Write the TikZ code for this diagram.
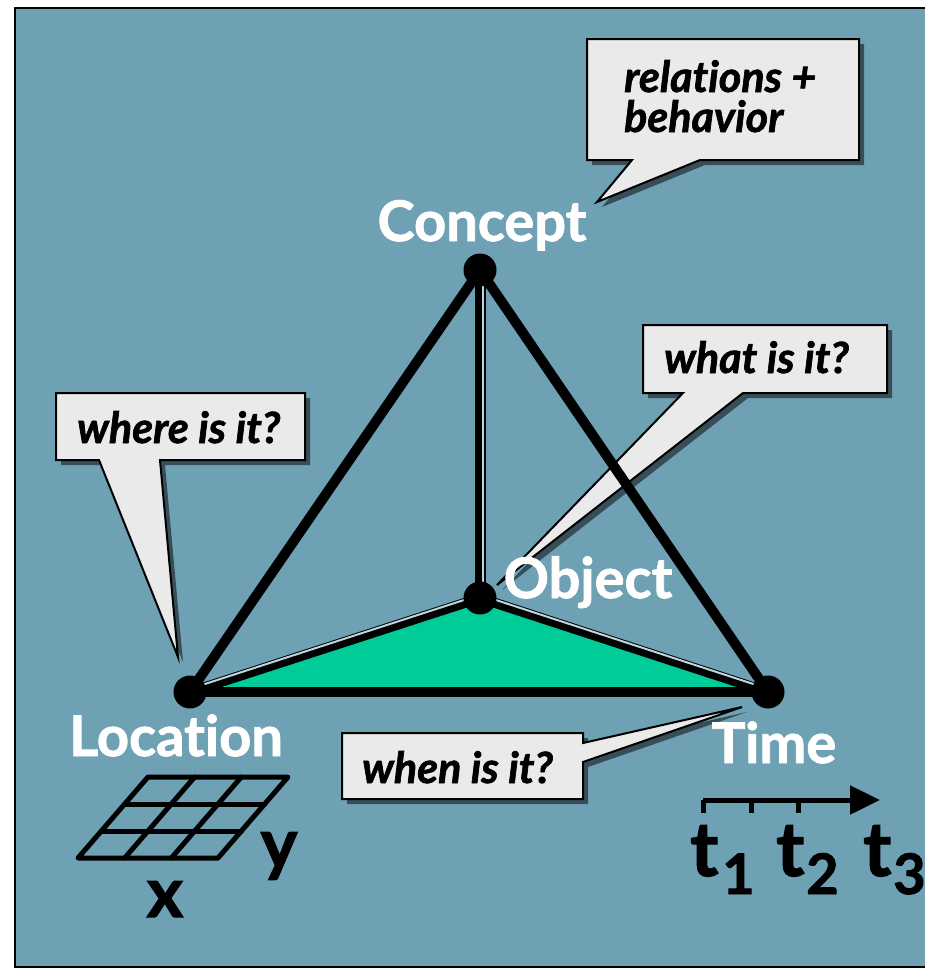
\documentclass[tikz,border=0pt]{standalone}
\usepackage{fontspec}
\setmainfont{Lato}[Ligatures=NoCommon,BoldFeatures={FakeBold=1.5},BoldItalicFeatures={FakeBold=1.5}]
\usetikzlibrary{arrows.meta,calc}
\definecolor{bg}{RGB}{110,161,180}
\definecolor{callfill}{RGB}{234,234,234}
\definecolor{shadowc}{RGB}{55,78,88}
\definecolor{tgreen}{RGB}{0,204,153}
\definecolor{gapc}{RGB}{190,212,222}
\tikzset{
  callshadow/.style={fill=shadowc, draw=none},
  callbox/.style={fill=callfill, draw=black, line width=2pt, line join=miter},
  calltext/.style={anchor=base west, inner sep=0pt, font=\fontsize{43}{50}\selectfont\bfseries\itshape},
  vdot/.style={circle, fill=black, minimum size=33pt, inner sep=0pt},
  vlabel/.style={anchor=base, inner sep=0pt, text=white, font=\fontsize{56}{60}\selectfont\bfseries},
  edge/.style={line width=10pt, line cap=round},
  dedge/.style={line width=10pt, line cap=round},
  gapline/.style={gapc, line width=2pt},
  bigletter/.style={inner sep=0pt, font=\fontsize{70}{74}\selectfont\bfseries},
  tletter/.style={inner sep=0pt, anchor=base west, font=\fontsize{76}{80}\selectfont\bfseries},
  subletter/.style={inner sep=0pt, anchor=base west, font=\fontsize{56}{60}\selectfont\bfseries},
  gridline/.style={line width=5pt, line cap=round, line join=round},
}
\begin{document}
\begin{tikzpicture}[x=1pt,y=-1pt]
\useasboundingbox (0,0) rectangle (924,969);
% background panel
\draw[fill=bg, draw=black, line width=2pt] (15,8) rectangle (930,967);

% vertices (positions)
\coordinate (Cp) at (480,270);
\coordinate (Op) at (480,598);
\coordinate (Lp) at (190,692);
\coordinate (Tp) at (768,692);

% green face
\fill[tgreen] (Lp) -- (Op) -- (Tp) -- cycle;

% callout: relations + behavior
\begin{scope}[shift={(5,5)}]
\fill[callshadow] (587,39) -- (859,39) -- (859,160) -- (700,160) -- (597,202) -- (632,160) -- (587,160) -- cycle;
\end{scope}
\draw[callbox] (587,39) -- (859,39) -- (859,160) -- (700,160) -- (597,202) -- (632,160) -- (587,160) -- cycle;
\node[calltext] (rel1) at (624,92) {relat\kern0pt ions +};
\node[calltext] (rel2) at (624,132) {behavior};

% callout: what is it?
\begin{scope}[shift={(5,5)}]
\fill[callshadow] (643,325) -- (887,325) -- (887,393) -- (743,393) -- (497,585) -- (683,393) -- (643,393) -- cycle;
\end{scope}
\draw[callbox] (643,325) -- (887,325) -- (887,393) -- (743,393) -- (497,585) -- (683,393) -- (643,393) -- cycle;
\node[calltext] (what) at (664,373) {what is it?};

% callout: where is it?
\begin{scope}[shift={(5,5)}]
\fill[callshadow] (56,393) -- (305,393) -- (305,460) -- (160,460) -- (178,657) -- (99,460) -- (56,460) -- cycle;
\end{scope}
\draw[callbox] (56,393) -- (305,393) -- (305,460) -- (160,460) -- (178,657) -- (99,460) -- (56,460) -- cycle;
\node[calltext] (where) at (77,443) {where is it?};

% callout: when is it?
\begin{scope}[shift={(5,5)}]
\fill[callshadow] (342,733) -- (583,733) -- (583,743) -- (742,707) -- (583,762) -- (583,799) -- (342,799) -- cycle;
\end{scope}
\draw[callbox] (342,733) -- (583,733) -- (583,743) -- (742,707) -- (583,762) -- (583,799) -- (342,799) -- cycle;
\node[calltext] (when) at (362,783) {when is it?};

% edges
\draw[edge] (Cp) -- (Lp);
\draw[edge] (Cp) -- (Tp);
\draw[line width=10pt] (Lp) -- (Tp);
\draw[line width=11pt] (Cp) -- (Op);
\draw[gapline] ($(Cp)+(2.5,0)$) -- ($(Op)+(2.5,0)$);
\draw[dedge] (Lp) -- (Op);
\draw[gapline] ($(Lp)+(-0.9,-2.9)$) -- ($(Op)+(-0.9,-2.9)$);
\draw[dedge] (Op) -- (Tp);
\draw[gapline] ($(Op)+(0.9,-2.9)$) -- ($(Tp)+(0.9,-2.9)$);

% vertex dots
\node[vdot] (C) at (Cp) {};
\node[vdot] (O) at (Op) {};
\node[vdot] (L) at (Lp) {};
\node[vdot] (T) at (Tp) {};

% vertex labels
\node[vlabel] (Clab) at (482,241) {Concept};
\node[vlabel] (Olab) at (588,598) {Object};
\node[vlabel] (Llab) at (176,756) {Locat\kern0pt ion};
\node[vlabel] (Tlab) at (774,763) {Time};

% location grid
\coordinate (g00) at (78,858);
\coordinate (g10) at (218,858);
\coordinate (g11) at (288,777);
\coordinate (g01) at (148,777);
\draw[gridline] (g00) -- (g10) -- (g11) -- (g01) -- cycle;
\foreach \f in {0.3333,0.6667} {
  \draw[gridline] ($(g00)!\f!(g10)$) -- ($(g01)!\f!(g11)$);
  \draw[gridline] ($(g00)!\f!(g01)$) -- ($(g10)!\f!(g11)$);
}
\node[bigletter, anchor=base] (xl) at (165,917) {x};
\node[bigletter, anchor=base] (yl) at (279,868) {y};

% time axis
\coordinate (a0) at (703,800);
\coordinate (a1) at (880,800);
\draw[line width=5pt, -{Triangle[length=30pt,width=28pt]}] (a0) -- (a1);
\foreach \xx in {703,751,798} {
  \draw[line width=5pt] (\xx,800) -- (\xx,813);
}
\node[tletter] (t1) at (690,876) {t};
\node[subletter] (s1) at (722,894) {1};
\node[tletter] (t2) at (776,876) {t};
\node[subletter] (s2) at (806,894) {2};
\node[tletter] (t3) at (863,876) {t};
\node[subletter] (s3) at (893,894) {3};
\end{tikzpicture}
\end{document}
